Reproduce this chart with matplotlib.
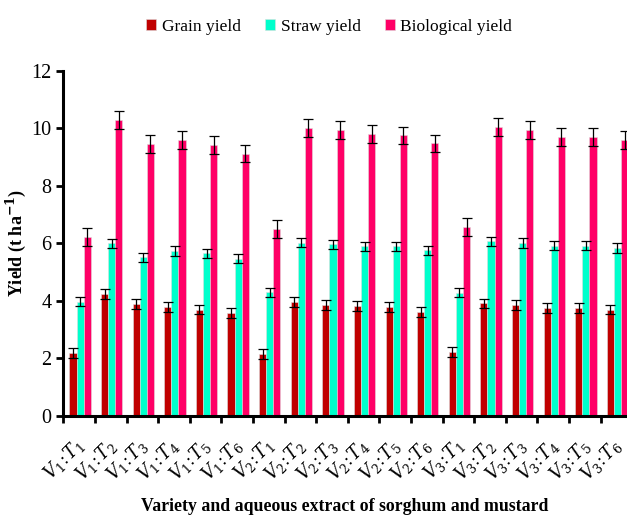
import numpy as np
import matplotlib
matplotlib.use("Agg")
import matplotlib.pyplot as plt
import matplotlib.transforms as mtransforms

# ---- data ----
treatments = ["V_1:T_1", "V_1:T_2", "V_1:T_3", "V_1:T_4", "V_1:T_5", "V_1:T_6",
              "V_2:T_1", "V_2:T_2", "V_2:T_3", "V_2:T_4", "V_2:T_5", "V_2:T_6",
              "V_3:T_1", "V_3:T_2", "V_3:T_3", "V_3:T_4", "V_3:T_5", "V_3:T_6"]

grain = [2.18, 4.25, 3.88, 3.80, 3.70, 3.58,
         2.15, 3.95, 3.87, 3.82, 3.79, 3.61,
         2.22, 3.91, 3.87, 3.76, 3.76, 3.70]
straw = [3.97, 6.00, 5.52, 5.73, 5.65, 5.46,
         4.30, 6.02, 5.97, 5.89, 5.89, 5.76,
         4.29, 6.07, 6.01, 5.92, 5.92, 5.84]
bio = [6.21, 10.29, 9.45, 9.59, 9.42, 9.12,
       6.50, 10.00, 9.93, 9.79, 9.75, 9.47,
       6.58, 10.04, 9.93, 9.71, 9.71, 9.58]

grain_err = [0.17] * 18
straw_err = [0.16] * 18
bio_err = [0.31] * 18

series_names = ["Grain yield", "Straw yield", "Biological yield"]
colors = ["#C00000", "#00FFCC", "#FF0066"]

SERIF = ["Liberation Serif", "DejaVu Serif"]
plt.rcParams["mathtext.fontset"] = "dejavuserif"

fig = plt.figure(figsize=(6.27, 5.18), dpi=100)
ax = fig.add_axes([0.101, 0.197, 0.9075, 0.6665])

x = np.arange(len(treatments)) + 0.5
w = 0.225
for i, (vals, errs, c, name) in enumerate(zip([grain, straw, bio],
                                              [grain_err, straw_err, bio_err],
                                              colors, series_names)):
    ax.bar(x + (i - 1) * w + 0.03, vals, width=w, color=c, label=name,
           edgecolor="#dddddd", linewidth=0.4,
           yerr=errs, capsize=3.3, error_kw=dict(ecolor="black", elinewidth=0.9, capthick=0.9))

ax.set_xlim(0, len(treatments))
ax.set_ylim(0, 12)
ax.set_yticks(np.arange(0, 13, 2))
ax.tick_params(axis="y", direction="out", length=5, width=2, labelsize=14.5)
for lab in ax.get_yticklabels():
    lab.set_fontfamily(SERIF)

# group boundaries as major ticks, labels at centres
ax.set_xticks(np.arange(0, len(treatments) + 1))
ax.set_xticklabels([])
ax.tick_params(axis="x", which="major", direction="out", length=5, width=2)
ax.set_xticks(x, minor=True)
ax.set_xticklabels(["$" + t.replace(":", "\\!:\\!") + "$" for t in treatments],
                   minor=True, rotation=45, ha="right", va="top",
                   rotation_mode="anchor", fontsize=12.8)
ax.tick_params(axis="x", which="minor", length=0, pad=14)
shift = mtransforms.ScaledTranslation(-4 / 72, 0, fig.dpi_scale_trans)
for lab in ax.get_xticklabels(minor=True):
    lab.set_transform(lab.get_transform() + shift)

for s in ["top", "right"]:
    ax.spines[s].set_visible(False)
for s in ["left", "bottom"]:
    ax.spines[s].set_linewidth(2.2)

ax.set_ylabel("Yield (t ha$^{\\mathbf{-1}}$)", fontsize=13, fontweight="bold",
              family=SERIF)
ax.yaxis.set_label_coords(-0.062, 0.5)
fig.text(0.55, 0.022, "Variety and aqueous extract of sorghum and mustard",
         ha="center", va="center", fontsize=12.8, fontweight="bold", family=SERIF)

fig.legend(loc="center", bbox_to_anchor=(0.525, 0.948), ncol=3, frameon=False,
           handlelength=0.6, handleheight=0.6, handletextpad=0.3, columnspacing=1.4,
           prop={"family": SERIF, "size": 12.5})

fig.savefig("out.png", dpi=100)
